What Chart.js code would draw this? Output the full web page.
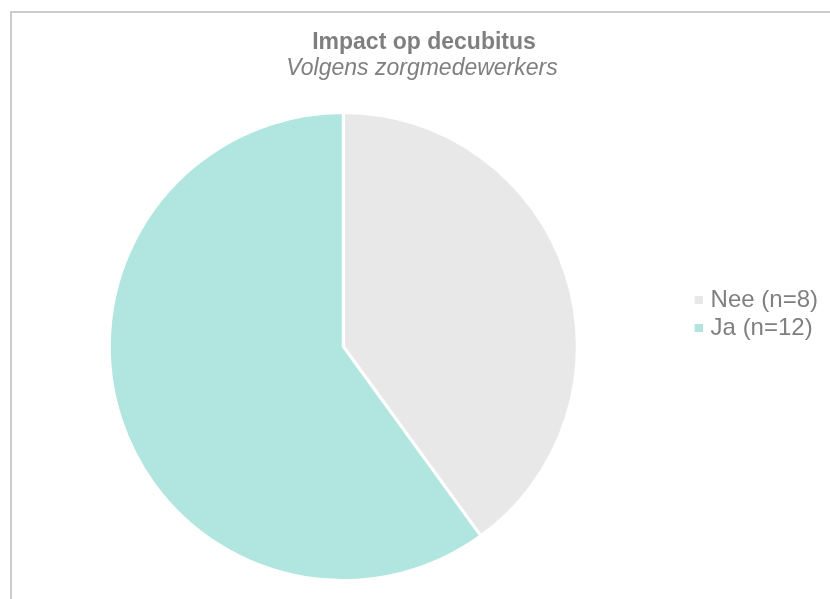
<!DOCTYPE html>
<html>
<head>
<meta charset="utf-8">
<script src="https://cdn.jsdelivr.net/npm/chart.js@4.4.1/dist/chart.umd.min.js"></script>
<style>
  html, body { margin: 0; padding: 0; background: #fff; overflow: hidden; }
  #wrap { position: relative; width: 830px; height: 599px; }
  #chart { position: absolute; left: 0; top: 0; }
  #frame { position: absolute; left: 10px; top: 11px; width: 900px; height: 700px;
           border: 2px solid #cccccc; pointer-events: none; }
</style>
</head>
<body>
<div id="wrap">
  <canvas id="chart" width="830" height="599"></canvas>
  <div id="frame"></div>
</div>
<script>
// Data
const labels = ['Nee (n=8)', 'Ja (n=12)'];
const counts = [8, 12];
const colors = ['#e8e8e8', '#b1e5df'];

const titleText = 'Impact op decubitus';
const subtitleText = 'Volgens zorgmedewerkers';

// small layout nudges: legend sits lower than centre of its box,
// titles are centred on the frame rather than the canvas
const LEGEND_DROP = 46;
const TITLE_SHIFT = 10;
const SUBTITLE_SHIFT = 8;
const nudges = {
  id: 'nudges',
  afterLayout(chart) {
    if (chart.legend) chart.legend.bottom += LEGEND_DROP;
    chart.boxes.forEach(b => {
      if (!b.options || b.position !== 'top') return;
      const dx = b.options.text === titleText ? TITLE_SHIFT : b.options.text === subtitleText ? SUBTITLE_SHIFT : 0;
      b.left += dx;
      b.right += dx;
    });
  }
};

// legend marker: 8px square sitting close to its label (no white border)
function marker(color) {
  const c = document.createElement('canvas');
  c.width = 16; c.height = 8;
  const g = c.getContext('2d');
  g.fillStyle = color;
  g.fillRect(8, 0, 8, 8);
  return c;
}
const markers = colors.map(marker);

const font = 'Liberation Sans, Arial, sans-serif';

const ctx = document.getElementById('chart').getContext('2d');
const chart = new Chart(ctx, {
  type: 'pie',
  data: {
    labels: labels,
    datasets: [{
      data: counts,
      backgroundColor: colors,
      borderColor: '#ffffff',
      borderWidth: 3
    }]
  },
  options: {
    responsive: false,
    animation: false,
    layout: { padding: { left: 0, right: 2, top: 0, bottom: 17 } },
    plugins: {
      title: {
        display: true,
        text: titleText,
        color: '#7f7f7f',
        font: { family: font, size: 23, weight: 'bold', lineHeight: 1 },
        padding: { top: 31, bottom: 0 }
      },
      subtitle: {
        display: true,
        text: subtitleText,
        color: '#7f7f7f',
        font: { family: font, size: 23, style: 'italic', weight: 'normal', lineHeight: 1 },
        padding: { top: 3, bottom: 31 }
      },
      legend: {
        position: 'right',
        labels: {
          boxWidth: 8,
          boxHeight: 8,
          padding: 4,
          usePointStyle: true,
          color: '#7f7f7f',
          font: { family: font, size: 24 },
          generateLabels(chart) {
            const items = Chart.overrides.pie.plugins.legend.labels.generateLabels(chart);
            items.forEach((it, i) => { it.pointStyle = markers[i]; it.lineWidth = 0; });
            return items;
          }
        }
      },
      tooltip: { enabled: false }
    }
  },
  plugins: [nudges]
});
</script>
</body>
</html>
